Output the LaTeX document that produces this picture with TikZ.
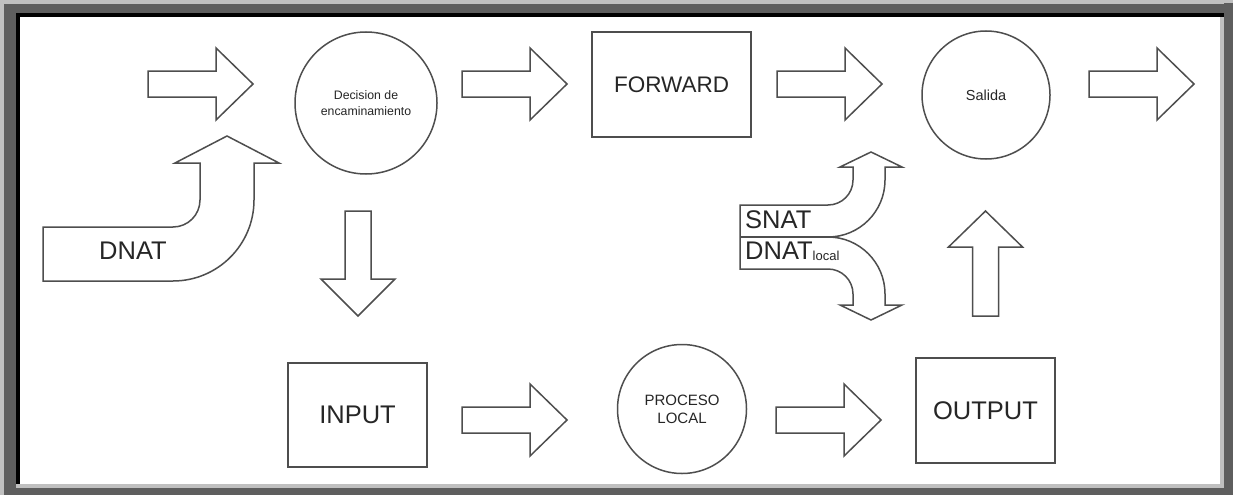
\documentclass[tikz,border=0pt]{standalone}
\usepackage{fontspec}
\setmainfont{Liberation Sans}
\definecolor{lgray}{HTML}{C0C0C0}
\definecolor{dgray}{HTML}{5E5E5E}
\definecolor{linec}{HTML}{4E4E4E}
\definecolor{txtc}{HTML}{262626}
\tikzset{
  shapeline/.style={draw=linec, line width=1.5pt, line join=miter, fill=white},
  boxnode/.style={draw=linec, line width=1.5pt, inner sep=0pt, text=txtc},
  circnode/.style={draw=linec, line width=1.5pt, circle, inner sep=0pt, align=center, text=txtc},
  bigtxt/.style={font=\fontsize{25.5}{30}\selectfont, text=txtc},
  smalltxt/.style={font=\fontsize{14}{17}\selectfont},
  pics/rarr/.style={code={\draw[shapeline] (0,-13) -- (68,-13) -- (68,-36) -- (105,0) -- (68,36) -- (68,13) -- (0,13) -- cycle;}},
  pics/darr/.style={code={\draw[shapeline] (-13,0) -- (-13,68) -- (-37,68) -- (0,105) -- (37,68) -- (13,68) -- (13,0) -- cycle;}},
  pics/uarr/.style={code={\draw[shapeline] (-13,0) -- (-13,-69) -- (-37,-69) -- (0,-105) -- (37,-69) -- (13,-69) -- (13,0) -- cycle;}}
}
\begin{document}
\begin{tikzpicture}[x=1pt,y=-1pt]
\useasboundingbox (0,0) rectangle (1233,495);
% frame
\fill[lgray] (0,0) rectangle (1233,495);
\fill[dgray] (1224,3) rectangle (1233,495);
\fill[dgray] (4,488) rectangle (1233,495);
\fill[dgray] (4,4) rectangle (1224,13);
\fill[dgray] (4,4) rectangle (16,488);
\fill[black] (16,13) rectangle (1224,17);
\fill[black] (16,13) rectangle (20,484);
\fill[lgray] (1220,17) rectangle (1224,488);
\fill[lgray] (16,484) rectangle (1224,488);
\fill[white] (20,17) rectangle (1220,484);

% nodes
\node[circnode, minimum size=142pt, font=\fontsize{12.3}{16}\selectfont] (dec) at (366,103) {Decision de\\encaminamiento};
\node[boxnode, minimum width=159pt, minimum height=105pt, font=\fontsize{22.5}{26}\selectfont] (fwd) at (671.5,84.5) {FORWARD};
\node[circnode, minimum size=128pt, font=\fontsize{14.5}{17}\selectfont] (sal) at (986,95) {Salida};
\node[boxnode, minimum width=139pt, minimum height=104pt, bigtxt] (inp) at (357.5,415) {INPUT};
\node[circnode, minimum size=129pt, font=\fontsize{15}{18}\selectfont] (proc) at (682,409) {PROCESO\\LOCAL};
\node[boxnode, minimum width=139pt, minimum height=105pt, bigtxt] (out) at (985.5,410.5) {OUTPUT};

% block arrows
\pic at (148,84) {rarr};
\pic at (462,84) {rarr};
\pic at (777,84) {rarr};
\pic at (1089,84) {rarr};
\pic at (462,420) {rarr};
\pic at (776,420) {rarr};
\pic at (358,211) {darr};
\pic at (985.5,316) {uarr};

% DNAT curved arrow
\draw[shapeline] (43,227) -- (173,227) arc[start angle=90, end angle=0, radius=27]
  -- (200,163) -- (175,163) -- (227,136) -- (279,163) -- (254,163) -- (254,200)
  arc[start angle=0, end angle=90, radius=81] -- (43,281) -- cycle;
\node[bigtxt, anchor=center] (dnat) at (133,251) {DNAT};

% SNAT / DNAT local split arrow
\draw[shapeline] (740,205) -- (828,205) arc[start angle=90, end angle=0, radius=25]
  -- (853,167) -- (840,167) -- (871,152) -- (902,167) -- (885,167) -- (885,180)
  arc[start angle=0, end angle=90, radius=57]
  arc[start angle=-90, end angle=0, radius=57]
  -- (885,305) -- (902,305) -- (871,320) -- (840,305) -- (853,305) -- (853,294)
  arc[start angle=0, end angle=-90, radius=25] -- (740,269) -- cycle;
\coordinate (divl) at (740,237);
\coordinate (divr) at (828,237);
\draw[draw=linec, line width=1.5pt] (divl) -- (divr);
\node[bigtxt, anchor=west, inner sep=0pt] (snat) at (745,220) {SNAT};
\node[bigtxt, anchor=west, inner sep=0pt] (dnatl) at (745,251) {DNAT{\fontsize{13}{13}\selectfont\raisebox{-1pt}{local}}};
\end{tikzpicture}
\end{document}
